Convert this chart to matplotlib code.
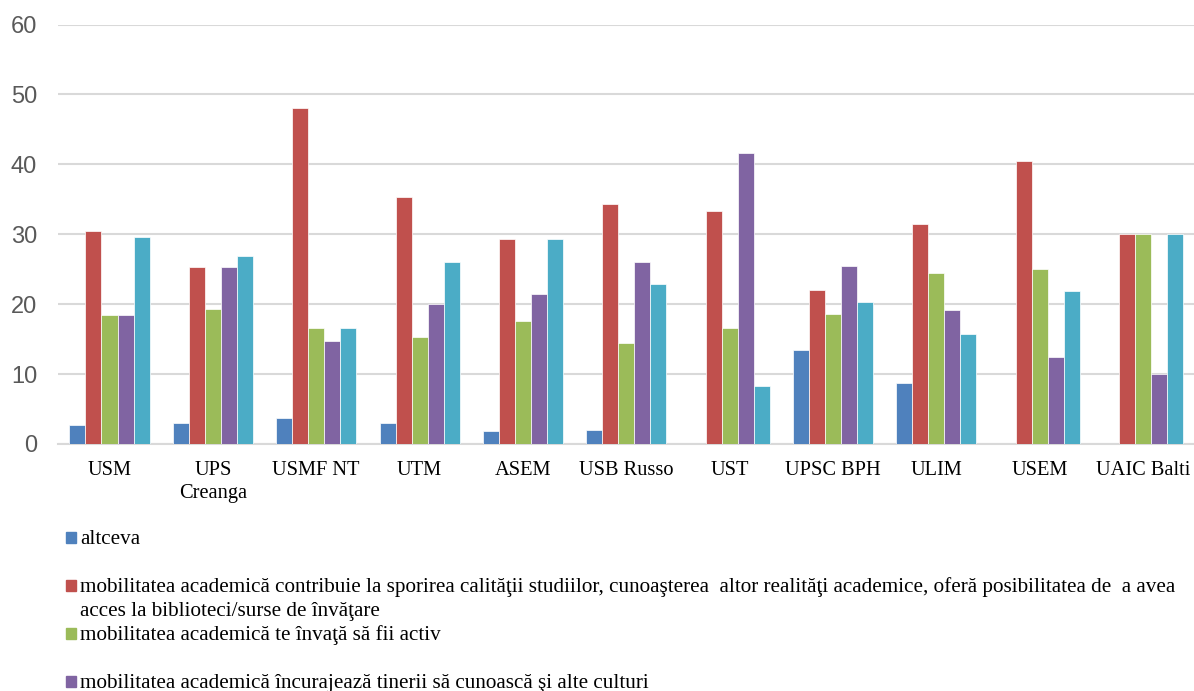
import matplotlib
matplotlib.use('Agg')
import matplotlib.pyplot as plt
import numpy as np
from matplotlib.patches import Rectangle

universities = ['USM', 'UPS\nCreanga', 'USMF NT', 'UTM', 'ASEM', 'USB Russo',
                'UST', 'UPSC BPH', 'ULIM', 'USEM', 'UAIC Balti']

altceva = [2.7, 2.95, 3.7, 3.0, 1.9, 2.05, 0, 13.5, 8.7, 0, 0]
calitate = [30.5, 25.3, 48.1, 35.3, 29.3, 34.3, 33.3, 22.0, 31.5, 40.5, 30.0]
activ = [18.5, 19.3, 16.6, 15.3, 17.6, 14.5, 16.6, 18.6, 24.5, 25.0, 30.0]
culturi = [18.5, 25.3, 14.8, 20.0, 21.5, 26.0, 41.6, 25.4, 19.2, 12.5, 10.0]
cyan_series = [29.6, 26.9, 16.6, 26.1, 29.3, 22.9, 8.3, 20.3, 15.8, 21.9, 30.0]

legend_labels = [
    'altceva',
    'mobilitatea academică contribuie la sporirea calităţii studiilor, cunoaşterea  altor realităţi academice, oferă posibilitatea de  a avea\nacces la biblioteci/surse de învăţare',
    'mobilitatea academică te învaţă să fii activ',
    'mobilitatea academică încurajează tinerii să cunoască şi alte culturi',
]

colors = ['#4F81BD', '#C0504D', '#9BBB59', '#8064A2', '#4BACC6']
series = [altceva, calitate, activ, culturi, cyan_series]

W, H = 1194, 691
fig = plt.figure(figsize=(W / 100, H / 100), dpi=100)
ax = fig.add_axes([58/W, 1 - 444/H, (W - 58)/W, (444 - 24.5)/H])

x = np.arange(len(universities))
w = 0.155
for i, (vals, c) in enumerate(zip(series, colors)):
    ax.bar(x + (i - 2) * w, vals, w, color=c, edgecolor='white', linewidth=0.5, zorder=3)

# group centres ~103.4 px apart, first at ~109.5 px
step = 103.35
ax.set_xlim(-(109.5 - 58) / step, (W - 109.5) / step)
ax.set_ylim(0, 60)
ax.set_yticks(range(0, 61, 10))
ax.yaxis.grid(True, color='#d9d9d9', linewidth=1.5, zorder=0)
ax.set_axisbelow(True)
for s in ['top', 'right', 'left']:
    ax.spines[s].set_visible(False)
ax.spines['bottom'].set_color('#d9d9d9')
ax.spines['bottom'].set_linewidth(1.5)
ax.tick_params(axis='y', length=0, pad=15, labelsize=17, labelcolor='#595959')
ax.tick_params(axis='x', length=0, pad=12)
for t in ax.get_yticklabels():
    t.set_fontfamily('Liberation Sans')
ax.set_xticks(x)
ax.set_xticklabels(universities, fontfamily='Liberation Serif', fontsize=14.7,
                   linespacing=1.3)

# legend, drawn like Excel: one 48 px slot per entry, text at the top of the slot
for k, (lab, c) in enumerate(zip(legend_labels, colors)):
    base = 1 - (544 + k * 48) / H   # baseline of first line
    fig.patches.append(Rectangle((66/W, base + 1/H), 10/W, 11/H,
                                 transform=fig.transFigure, color=c))
    for j, line in enumerate(lab.split('\n')):
        fig.text(80/W, base - j * 24 / H, line, fontfamily='Liberation Serif',
                 fontsize=15.25, va='baseline', ha='left')

fig.savefig('out.png', dpi=100)
